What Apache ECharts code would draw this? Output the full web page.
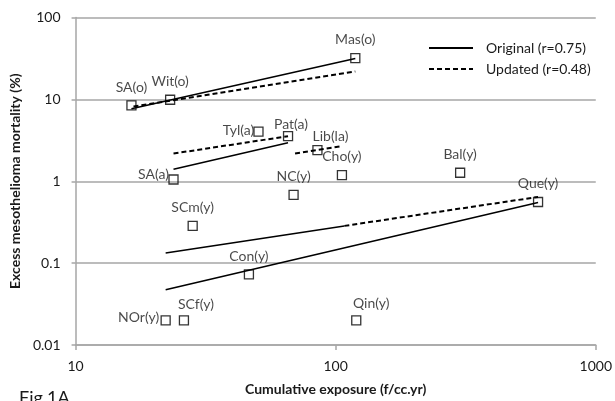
<!DOCTYPE html>
<html>
<head>
<meta charset="utf-8">
<script src="https://cdn.jsdelivr.net/npm/echarts@6/dist/echarts.min.js"></script>
<style>
html,body{margin:0;padding:0;background:#fff;}
#chart{width:615px;height:401px;}
</style>
</head>
<body>
<div id="chart"></div>
<script>
// ---- data ----
const pointNames = ['SA(o)','Wit(o)','Mas(o)','Tyl(a)','Pat(a)','Lib(la)','Cho(y)','Bal(y)','Que(y)','SA(a)','NC(y)','SCm(y)','Con(y)','NOr(y)','SCf(y)','Qin(y)'];
const pointX = [16.4, 23.1, 119, 50.5, 65.6, 85.1, 105.7, 301, 600, 23.8, 68.9, 28.2, 46.4, 22.2, 26.1, 120];
const pointY = [8.45, 9.9, 31.9, 4.04, 3.55, 2.40, 1.19, 1.27, 0.558, 1.05, 0.68, 0.285, 0.073, 0.020, 0.020, 0.020];

// regression line endpoints [x, y]
const originalLines = [
  [[16.4, 7.7], [119, 31.5]],
  [[23.8, 1.40], [65.6, 2.95]],
  [[22.2, 0.0474], [600, 0.55]],
  [[22.2, 0.133], [108, 0.285]]
];
const updatedLines = [
  [[16.7, 8.2], [119, 21.9]],
  [[23.8, 2.18], [65.6, 3.55]],
  [[69.8, 2.18], [104.7, 2.68]],
  [[108, 0.285], [600, 0.643]]
];

const xTicks = [10, 100, 1000];
const yTicks = [0.01, 0.1, 1, 10, 100];
const originalName = 'Original (r=0.75)';
const updatedName = 'Updated (r=0.48)';

// ---- label placement (layout only) ----
const labelOffsets = {
  'Tyl(a)': [-20, 17],
  'Pat(a)': [3, 6],
  'Lib(la)': [13, 5],
  'SA(a)': [-20, 13],
  'SCf(y)': [12, 2],
  'NOr(y)': [-27, 15],
  'Qin(y)': [15, 1]
};

const FONT = 'Lato, "Open Sans", sans-serif';
const GRID = '#a6a6a6';
const TXT = '#1a1a1a';

const chart = echarts.init(document.getElementById('chart'), null, {renderer: 'canvas'});

const scatterData = pointNames.map((n, i) => {
  const item = {name: n, value: [pointX[i], pointY[i]]};
  if (labelOffsets[n]) item.label = {offset: labelOffsets[n]};
  return item;
});

const series = [];
originalLines.forEach(seg => {
  series.push({
    type: 'line', name: originalName, data: seg, symbol: 'none', showSymbol: false,
    lineStyle: {color: '#000', width: 1.5, type: 'solid'}, itemStyle: {color: '#000'},
    silent: true, z: 2
  });
});
updatedLines.forEach(seg => {
  series.push({
    type: 'line', name: updatedName, data: seg, symbol: 'none', showSymbol: false,
    lineStyle: {color: '#000', width: 2, type: [5, 3]}, itemStyle: {color: '#000'},
    silent: true, z: 2
  });
});
series.push({
  type: 'scatter', name: 'points', data: scatterData,
  symbol: 'rect', symbolSize: 9,
  itemStyle: {color: 'transparent', borderColor: '#000', borderWidth: 1.3},
  label: {show: true, position: 'top', distance: 6, formatter: '{b}',
          fontFamily: FONT, fontSize: 14, color: TXT},
  z: 3
});

chart.setOption({
  animation: false,
  backgroundColor: '#fff',
  grid: {left: 66, right: 18, top: 17.5, bottom: 55, containLabel: false},
  legend: {
    data: [originalName, updatedName],
    orient: 'vertical', left: 428, top: 41, padding: 0,
    itemWidth: 44, itemHeight: 14, itemGap: 7,
    itemStyle: {opacity: 0, borderWidth: 0},
    textStyle: {fontFamily: FONT, fontSize: 14, color: TXT, padding: [0, 0, 0, 8]}
  },
  xAxis: {
    type: 'log', logBase: 10, min: xTicks[0], max: xTicks[xTicks.length - 1],
    name: 'Cumulative exposure (f/cc.yr)', nameLocation: 'middle', nameGap: 37,
    nameTextStyle: {fontFamily: FONT, fontSize: 14, fontWeight: 'bold', color: TXT},
    axisLine: {show: true, lineStyle: {color: GRID, width: 1.5}},
    axisTick: {show: true, length: 5, lineStyle: {color: GRID, width: 1.5}},
    minorTick: {show: false},
    splitLine: {show: false},
    axisLabel: {fontFamily: FONT, fontSize: 14, color: TXT, margin: 14,
                formatter: v => String(v)}
  },
  yAxis: {
    type: 'log', logBase: 10, min: yTicks[0], max: yTicks[yTicks.length - 1],
    name: 'Excess mesothelioma mortality (%)', nameLocation: 'middle', nameGap: 42,
    nameTextStyle: {fontFamily: FONT, fontSize: 14, fontWeight: 'bold', color: TXT},
    axisLine: {show: true, lineStyle: {color: GRID, width: 1.5}},
    axisTick: {show: true, length: 4, lineStyle: {color: GRID, width: 1.5}},
    minorTick: {show: false},
    splitLine: {show: true, lineStyle: {color: GRID, width: 1.5}},
    axisLabel: {fontFamily: FONT, fontSize: 14, color: TXT, margin: 15,
                formatter: v => String(+v.toPrecision(6))}
  },
  graphic: [{
    type: 'text', left: 19, top: 389,
    style: {text: 'Fig.1A', fontFamily: FONT, fontSize: 18, fill: TXT}
  }],
  series: series
});
</script>
</body>
</html>
